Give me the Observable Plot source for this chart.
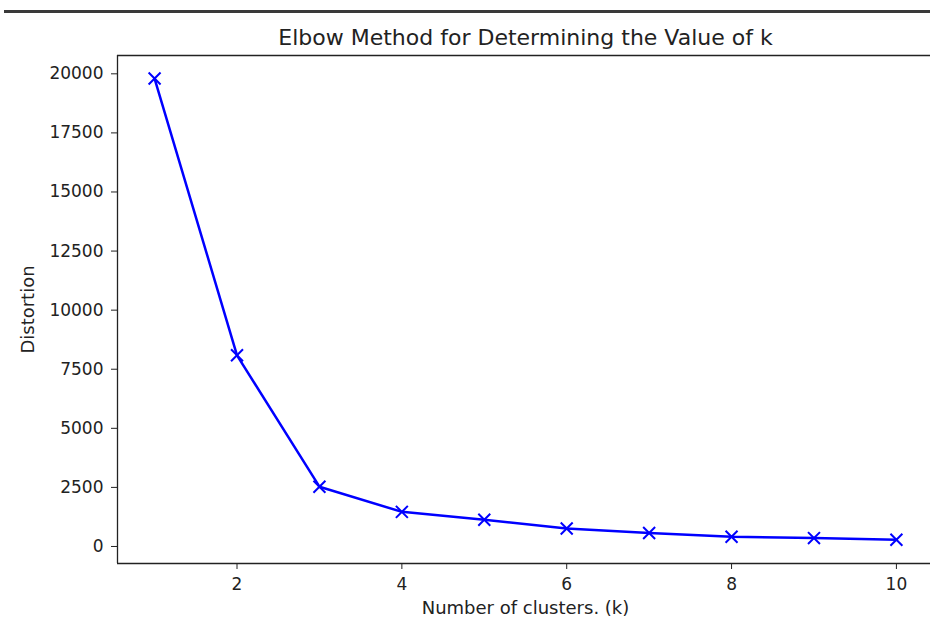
<!DOCTYPE html>
<html>
<head>
<meta charset="utf-8">
<script src="https://cdn.jsdelivr.net/npm/d3@7"></script>
<script src="https://cdn.jsdelivr.net/npm/@observablehq/plot@0.6"></script>
<style>
  html, body { margin: 0; padding: 0; background: white; }
  #wrap { position: relative; width: 930px; height: 618px; overflow: hidden; }
  #bar { position: absolute; left: 4px; top: 10px; width: 926px; height: 3px; background: #3a3a3a; z-index: 2; }
</style>
</head>
<body>
<div id="wrap"><div id="bar"></div></div>
<script>
const clusters = [1, 2, 3, 4, 5, 6, 7, 8, 9, 10];
const distortion = [19800, 8090, 2530, 1465, 1130, 760, 570, 410, 355, 285];
const xTicks = [2, 4, 6, 8, 10];
const yTicks = [0, 2500, 5000, 7500, 10000, 12500, 15000, 17500, 20000];
const titleText = "Elbow Method for Determining the Value of k";
const xLabel = "Number of clusters. (k)";
const yLabel = "Distortion";
const xDomain = [0.55, 10.45];
const yDomain = [-720, 20775];

const data = clusters.map((k, i) => ({k, d: distortion[i]}));

const chart = Plot.plot({
  width: 934,
  height: 618,
  marginLeft: 117,
  marginRight: 1,
  marginTop: 55,
  marginBottom: 55,
  style: {fontFamily: "DejaVu Sans", fontSize: "17px", background: "white", color: "#222"},
  x: {domain: xDomain, ticks: xTicks, tickSize: 6, tickPadding: 8, label: null, tickFormat: d => String(d)},
  y: {domain: yDomain, ticks: yTicks, tickSize: 6, tickPadding: 8, label: null, tickFormat: d => String(d)},
  marks: [
    Plot.ruleX([xDomain[0]], {stroke: "#222", strokeWidth: 1.3}),
    Plot.ruleY(yDomain, {stroke: "#222", strokeWidth: 1.3}),
    Plot.line(data, {x: "k", y: "d", stroke: "#0000ff", strokeWidth: 2.5}),
    Plot.dot(data, {x: "k", y: "d", symbol: "times", r: 5.5, stroke: "#0000ff", strokeWidth: 2}),
    Plot.text([titleText], {frameAnchor: "top", lineAnchor: "middle", textAnchor: "middle", dy: -18, fontSize: 22, fill: "#222"}),
    Plot.text([xLabel], {frameAnchor: "bottom", lineAnchor: "middle", textAnchor: "middle", dy: 45, fontSize: 18, fill: "#222"}),
    Plot.text([yLabel], {frameAnchor: "left", lineAnchor: "middle", textAnchor: "middle", dx: -89, rotate: -90, fontSize: 18, fill: "#222"})
  ]
});
chart.style.position = "absolute";
chart.style.left = "0";
chart.style.top = "0";
chart.style.maxWidth = "none";
chart.style.width = "934px";
chart.style.height = "618px";
document.getElementById("wrap").appendChild(chart);
</script>
</body>
</html>
